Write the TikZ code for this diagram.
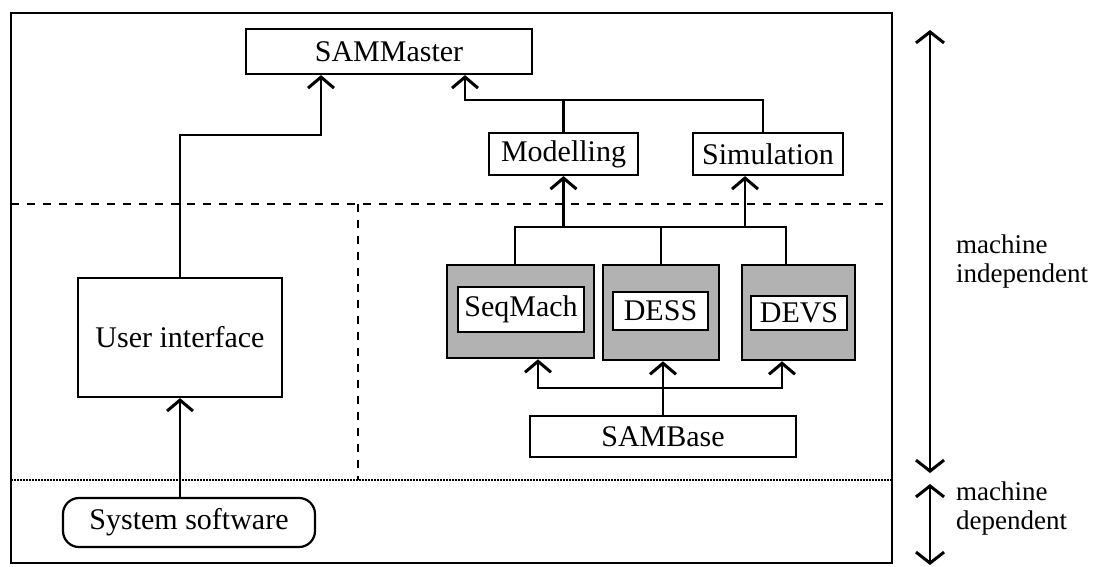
\documentclass[tikz,border=0pt]{standalone}
\usepackage{fontspec}
\setmainfont{Liberation Serif}
\usetikzlibrary{arrows.meta}

\begin{document}
\begin{tikzpicture}[x=1pt,y=-1pt,
    every node/.style={font=\fontsize{30}{34}\selectfont, inner sep=0pt},
    box/.style={draw, line width=2.2pt, fill=white},
    shaded/.style={draw, line width=2.6pt, fill=black!30},
    link/.style={line width=2.2pt},
    arr/.style={line width=2.2pt, -{Straight Barb[width=26pt,length=11pt,line width=3pt]}},
    dblarr/.style={line width=2pt, {Straight Barb[width=28pt,length=11pt,line width=3pt]}-{Straight Barb[width=28pt,length=11pt,line width=3pt]}},
    border/.style={line width=2.4pt, dash pattern=on 8pt off 8pt},
    dots/.style={line width=2pt, dash pattern=on 1.5pt off 1.5pt},
    side/.style={align=left, font=\fontsize{27}{29}\selectfont}]
    \useasboundingbox (0,0) rectangle (1102,566);
    \draw[line width=2.2pt] (11,13) rectangle (892,563);
    \draw[border] (11,204) -- (892,204);
    \draw[border] (358,204) -- (358,480);
    \draw[dots] (11,480) -- (892,480);

    \node[box, minimum width=286pt, minimum height=45pt] (master) at (389,51.5) {SAMMaster};
    \node[box, minimum width=149pt, minimum height=42pt] (model) at (563.5,154) {Modelling};
    \node[box, minimum width=150pt, minimum height=42pt] (simul) at (768,154) {Simulation};
    \node[box, minimum width=204pt, minimum height=119pt] (ui) at (180,337.5) {User interface};
    \node[box, rounded corners=16pt, minimum width=252pt, minimum height=49pt] (sys) at (189,522.5) {System software};

    \node[shaded, minimum width=147pt, minimum height=93pt] (seq) at (520.5,311.5) {};
    \node[shaded, minimum width=116pt, minimum height=95pt] (dess) at (661,312.5) {};
    \node[shaded, minimum width=113pt, minimum height=95pt] (devs) at (798.5,312.5) {};
    \node[box, line width=2.6pt, minimum width=126pt, minimum height=45pt] (seqname) at (521,309.5) {SeqMach};
    \node[box, line width=2.6pt, minimum width=95pt, minimum height=38pt] (dessname) at (660.5,311) {DESS};
    \node[box, line width=2.6pt, minimum width=96pt, minimum height=34pt] (devsname) at (799,313) {DEVS};
    \node[box, minimum width=266pt, minimum height=41pt] (base) at (663,436.5) {SAMBase};

    \coordinate (uiknee) at (321,135);
    \coordinate (topknee) at (465,100);
    \coordinate (busL) at (515,227);
    \coordinate (busR) at (786,227);
    \coordinate (lowL) at (538,388);
    \coordinate (lowR) at (782,388);

    \draw[arr] (sys.north -| ui.south) -- (ui.south);
    \draw[arr] (ui.north) |- (uiknee) -- (master.south -| uiknee);
    \draw[link] (model.north) -- (model.north |- topknee);
    \draw[arr] ([xshift=-5pt]simul.north) |- (topknee) -- (master.south -| topknee);

    \draw[link] (seq.north -| busL) -- (busL) -- (busR) -- (devs.north -| busR);
    \draw[link] (dess.north) -- (dess.north |- busL);
    \draw[arr] (model.south |- busL) -- (model.south);
    \draw[arr] ([xshift=-23pt]simul.south |- busL) -- ([xshift=-23pt]simul.south);

    \draw[arr] (lowR) -- (lowL) -- (seq.south -| lowL);
    \draw[arr] (lowL) -- (lowR) -- (devs.south -| lowR);
    \draw[arr] (base.north) -- (dess.south -| base.north);

    \coordinate (indtop) at (930,30);
    \coordinate (indbot) at (930,473);
    \coordinate (deptop) at (930,484);
    \coordinate (depbot) at (930,565);
    \draw[dblarr] (indtop) -- (indbot);
    \draw[dblarr] (deptop) -- (depbot);
    \node[side, anchor=west] (indep) at (956,261) {machine\\independent};
    \node[side, anchor=west] (dep) at (956,508) {machine\\dependent};
\end{tikzpicture}
\end{document}
